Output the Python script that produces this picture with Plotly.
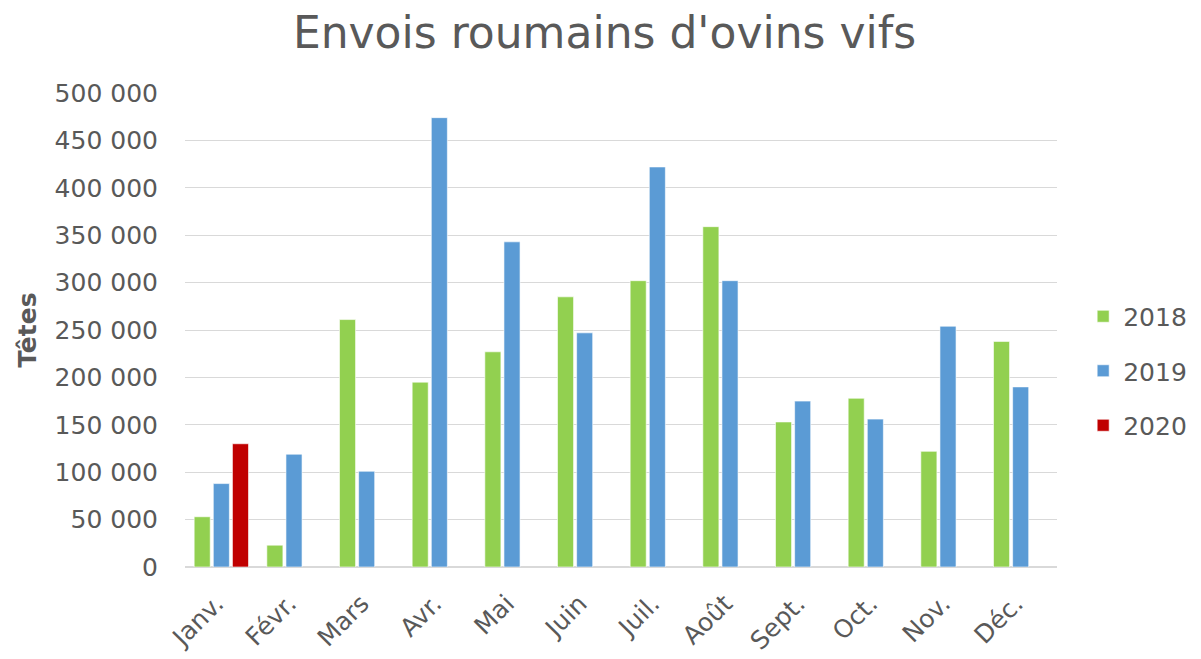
import plotly.graph_objects as go

months = ["Janv.", "Févr.", "Mars", "Avr.", "Mai", "Juin", "Juil.", "Août", "Sept.", "Oct.", "Nov.", "Déc."]
v2018 = [53000, 23000, 261000, 195000, 227000, 285000, 302000, 359000, 153000, 178000, 122000, 238000]
v2019 = [88000, 119000, 101000, 474000, 343000, 247000, 422000, 302000, 175000, 156000, 254000, 190000]
v2020 = [130000, None, None, None, None, None, None, None, None, None, None, None]

series = [("2018", v2018, "#92D050"), ("2019", v2019, "#5B9BD5"), ("2020", v2020, "#C00000")]

FONT = "DejaVu Sans"
GREY = "#595959"

fig = go.Figure()
for name, vals, col in series:
    fig.add_trace(go.Bar(x=months, y=vals, name=name, legendgroup=name,
                         marker=dict(color=col, line=dict(color="rgba(255,255,255,0.6)", width=1))))

fig.update_layout(
    width=1193, height=651,
    paper_bgcolor="white", plot_bgcolor="white",
    margin=dict(l=177, r=144, t=85, b=92, autoexpand=False),
    separators=", ",
    barmode="group", bargap=0.21, bargroupgap=0.16,
    font=dict(family=FONT, color=GREY, size=24),
    title=dict(text="Envois roumains d'ovins vifs", x=0.5, xanchor="center",
               y=0.962, yanchor="middle", font=dict(family=FONT, size=44, color=GREY)),
    legend=dict(x=1.030, xanchor="left", y=0.577, yanchor="top",
                font=dict(family=FONT, size=25, color=GREY), tracegroupgap=19,
                itemwidth=30, bgcolor="rgba(0,0,0,0)", borderwidth=0),
    showlegend=True,
)
fig.update_xaxes(tickangle=-45, showgrid=False, showline=True, linecolor="#D9D9D9", linewidth=1,
                 tickfont=dict(family=FONT, size=25, color=GREY), ticks="", automargin=False,
                 ticklabelshift=-5, ticklabelstandoff=11)
fig.update_yaxes(range=[0, 500000], dtick=50000, tickformat=",d", showgrid=True,
                 gridcolor="#D9D9D9", gridwidth=1, zeroline=True, zerolinecolor="#D9D9D9",
                 tickfont=dict(family=FONT, size=25, color=GREY), ticklabelstandoff=26,
                 automargin=False,
                 title=dict(text="<b>Têtes</b>", font=dict(family=FONT, size=25, color=GREY), standoff=10))

fig.write_html("out.html")
